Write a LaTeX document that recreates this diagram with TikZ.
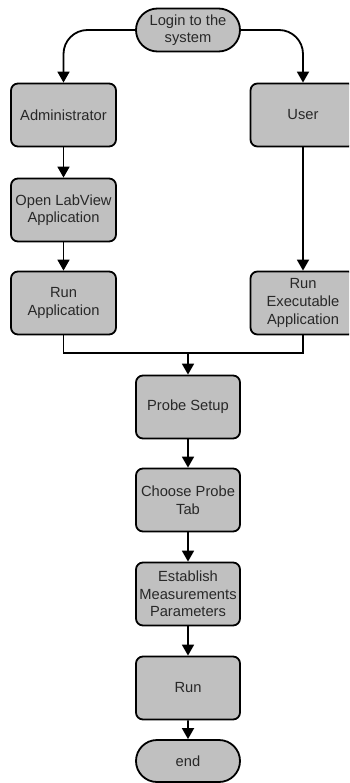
\documentclass[tikz,border=0pt]{standalone}
\usepackage{fontspec}
\setmainfont{Liberation Sans}
\usetikzlibrary{shapes.misc,arrows.meta}
\definecolor{boxgray}{RGB}{192,192,192}
\definecolor{txt}{RGB}{40,40,40}
\begin{document}
\begin{tikzpicture}[x=1bp,y=-1bp,
  every node/.style={font=\fontsize{14.7bp}{17.6bp}\selectfont, text=txt, align=center, inner sep=0pt},
  box/.style={draw, fill=boxgray, line width=1.8bp, rounded corners=7bp, minimum width=105bp, minimum height=63bp},
  term/.style={draw, fill=boxgray, line width=1.8bp, rounded rectangle, minimum width=104bp, minimum height=43bp},
  conn/.style={line width=1.8bp},
  arr/.style={conn, -{Triangle[length=11bp,width=12bp]}}]
\useasboundingbox (0,0) rectangle (349,783);
\fill[white] (0,0) rectangle (349,783);
\clip (0,0) rectangle (349,783);
\node[term] (login) at (188,30) {Login to the\\system};
\node[box] (admin) at (63.5,115) {Administrator};
\node[box] (user) at (303,115) {User};
\node[box] (open) at (63.5,210) {Open LabView\\Application};
\node[box] (runapp) at (63.5,303) {Run\\Application};
\node[box] (runexe) at (303,303) {Run\\Executable\\Application};
\node[box, minimum width=104bp] (probe) at (188,407) {Probe Setup};
\node[box, minimum width=104bp] (choose) at (188,500) {Choose Probe\\Tab};
\node[box, minimum width=104bp] (establish) at (188,594) {Establish\\Measurements\\Parameters};
\node[box, minimum width=104bp] (run) at (188,688) {Run};
\node[term, minimum height=42bp] (end) at (188,761) {end};
\coordinate (merge) at (188,353);
\draw[arr, rounded corners=24bp] (login.west) -| (admin.north);
\draw[arr, rounded corners=24bp] (login.east) -| (user.north);
\draw[arr] (admin) -- (open);
\draw[arr] (open) -- (runapp);
\draw[arr] (user) -- (runexe);
\draw[conn] (runapp.south) |- (merge);
\draw[conn] (runexe.south) |- (merge);
\draw[arr] (merge) -- (probe.north);
\draw[arr] (probe) -- (choose);
\draw[arr] (choose) -- (establish);
\draw[arr] (establish) -- (run);
\draw[arr] (run) -- (end);
\end{tikzpicture}
\end{document}
